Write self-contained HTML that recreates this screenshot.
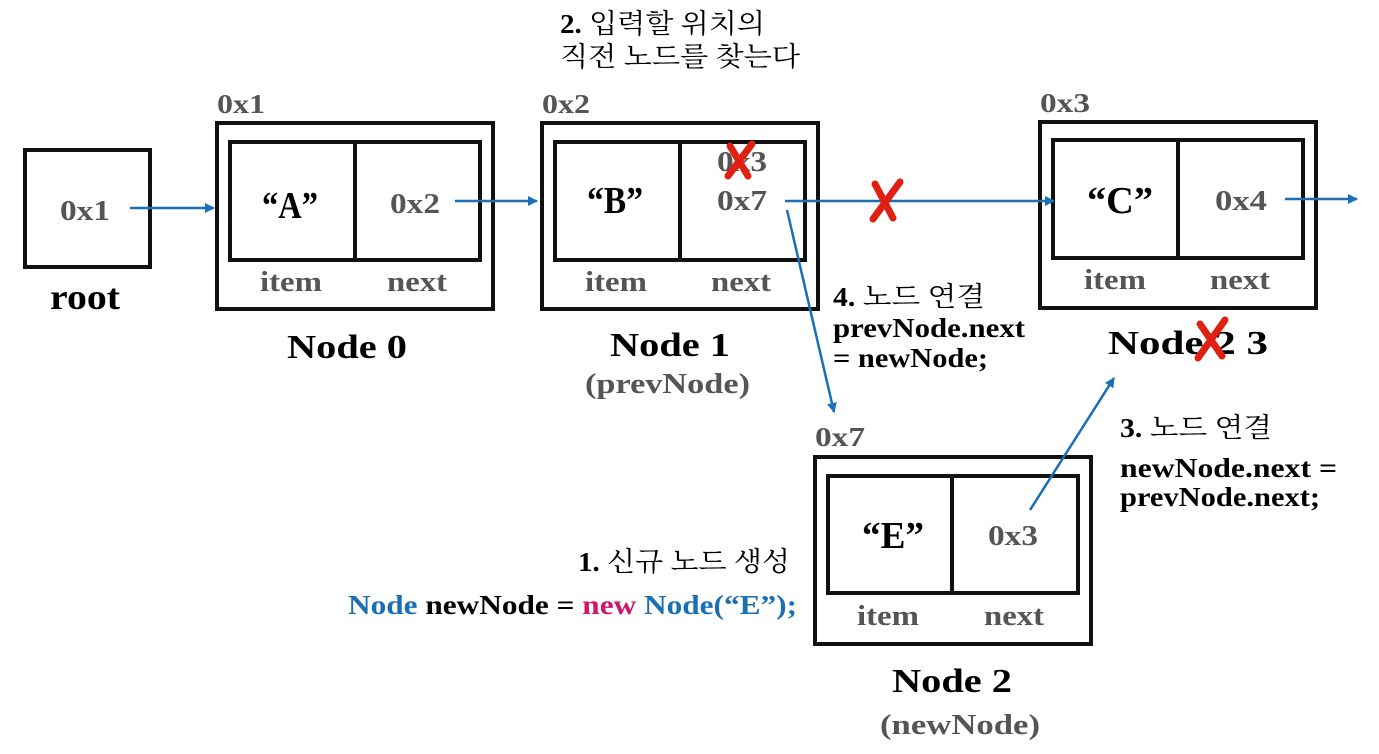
<!DOCTYPE html>
<html><head><meta charset="utf-8"><style>
body{margin:0;background:#fff}
svg{display:block}
text{font-family:"Liberation Serif","Noto Serif CJK SC","Noto Sans CJK KR",serif;font-weight:bold}
.g{fill:#555}
.k{fill:#000}
.b{fill:none;stroke:#111;stroke-width:4}
.a{stroke:#1a6fb5;stroke-width:2.5;fill:none}
.x{stroke:#e02010;stroke-width:7;stroke-linecap:round}
.n{font-weight:normal}
</style></head><body>
<svg width="1379" height="754" viewBox="0 0 1379 754">
<defs><marker id="ah" markerWidth="10" markerHeight="10" refX="9" refY="5" orient="auto" markerUnits="userSpaceOnUse"><path d="M0,0 L10,5 L0,10 Z" fill="#1a6fb5"/></marker></defs>

<g>
<text x="560" y="33" font-size="27" class="k" textLength="205" lengthAdjust="spacingAndGlyphs">2. <tspan class="n">입력할 위치의</tspan></text>
<text x="560" y="66" font-size="27" class="k n" font-weight="normal" textLength="240" lengthAdjust="spacingAndGlyphs">직전 노드를 찾는다</text>
</g>

<g>
<rect x="25" y="150" width="125" height="117" class="b"/>
<text x="60" y="220" font-size="28" class="g" textLength="50" lengthAdjust="spacingAndGlyphs">0x1</text>
<text x="50" y="309" font-size="36" class="k" textLength="70" lengthAdjust="spacingAndGlyphs">root</text>
</g>

<g>
<text x="217" y="113" font-size="27" class="g" textLength="48" lengthAdjust="spacingAndGlyphs">0x1</text>
<rect x="217" y="123" width="276" height="186" class="b"/>
<rect x="230" y="142" width="250" height="118" class="b"/>
<line x1="355" y1="142" x2="355" y2="260" class="b"/>
<text x="262" y="218" font-size="38" class="k" textLength="56" lengthAdjust="spacingAndGlyphs">“A”</text>
<text x="390" y="213" font-size="28" class="g" textLength="50" lengthAdjust="spacingAndGlyphs">0x2</text>
<text x="260" y="291" font-size="28" class="g" textLength="62" lengthAdjust="spacingAndGlyphs">item</text>
<text x="387" y="291" font-size="28" class="g" textLength="60" lengthAdjust="spacingAndGlyphs">next</text>
<text x="287" y="358" font-size="34" class="k" textLength="120" lengthAdjust="spacingAndGlyphs">Node 0</text>
</g>

<g>
<text x="542" y="113" font-size="27" class="g" textLength="48" lengthAdjust="spacingAndGlyphs">0x2</text>
<rect x="542" y="123" width="276" height="186" class="b"/>
<rect x="555" y="142" width="250" height="118" class="b"/>
<line x1="680" y1="142" x2="680" y2="260" class="b"/>
<text x="587" y="213" font-size="38" class="k" textLength="56" lengthAdjust="spacingAndGlyphs">“B”</text>
<text x="717" y="171" font-size="28" class="g" textLength="50" lengthAdjust="spacingAndGlyphs">0x3</text>
<text x="717" y="210" font-size="28" class="g" textLength="50" lengthAdjust="spacingAndGlyphs">0x7</text>
<text x="585" y="291" font-size="28" class="g" textLength="62" lengthAdjust="spacingAndGlyphs">item</text>
<text x="711" y="291" font-size="28" class="g" textLength="60" lengthAdjust="spacingAndGlyphs">next</text>
<text x="610" y="356" font-size="34" class="k" textLength="120" lengthAdjust="spacingAndGlyphs">Node 1</text>
<text x="585" y="393" font-size="28" class="g" textLength="165" lengthAdjust="spacingAndGlyphs">(prevNode)</text>
</g>

<g>
<text x="1040" y="112" font-size="27" class="g" textLength="50" lengthAdjust="spacingAndGlyphs">0x3</text>
<rect x="1040" y="122" width="276" height="186" class="b"/>
<rect x="1053" y="140" width="250" height="118" class="b"/>
<line x1="1178" y1="140" x2="1178" y2="258" class="b"/>
<text x="1087" y="213" font-size="38" class="k" textLength="66" lengthAdjust="spacingAndGlyphs">“C”</text>
<text x="1215" y="210" font-size="28" class="g" textLength="52" lengthAdjust="spacingAndGlyphs">0x4</text>
<text x="1084" y="289" font-size="28" class="g" textLength="62" lengthAdjust="spacingAndGlyphs">item</text>
<text x="1210" y="289" font-size="28" class="g" textLength="60" lengthAdjust="spacingAndGlyphs">next</text>
<text x="1108" y="354" font-size="34" class="k" textLength="160" lengthAdjust="spacingAndGlyphs">Node 2 3</text>
</g>

<g>
<text x="815" y="446" font-size="27" class="g" textLength="50" lengthAdjust="spacingAndGlyphs">0x7</text>
<rect x="815" y="457" width="276" height="187" class="b"/>
<rect x="828" y="476" width="250" height="117" class="b"/>
<line x1="952" y1="476" x2="952" y2="593" class="b"/>
<text x="862" y="548" font-size="38" class="k" textLength="62" lengthAdjust="spacingAndGlyphs">“E”</text>
<text x="988" y="545" font-size="28" class="g" textLength="50" lengthAdjust="spacingAndGlyphs">0x3</text>
<text x="857" y="625" font-size="28" class="g" textLength="62" lengthAdjust="spacingAndGlyphs">item</text>
<text x="984" y="625" font-size="28" class="g" textLength="60" lengthAdjust="spacingAndGlyphs">next</text>
<text x="892" y="692" font-size="34" class="k" textLength="120" lengthAdjust="spacingAndGlyphs">Node 2</text>
<text x="880" y="734" font-size="28" class="g" textLength="160" lengthAdjust="spacingAndGlyphs">(newNode)</text>
</g>

<g>
<line x1="130" y1="208" x2="214" y2="208" class="a" marker-end="url(#ah)"/>
<line x1="455" y1="201" x2="537" y2="201" class="a" marker-end="url(#ah)"/>
<line x1="785" y1="201" x2="1054" y2="201" class="a" marker-end="url(#ah)"/>
<line x1="1285" y1="199" x2="1357" y2="199" class="a" marker-end="url(#ah)"/>
<line x1="787" y1="210" x2="834" y2="412" class="a" marker-end="url(#ah)"/>
<line x1="1030" y1="510" x2="1114" y2="378" class="a" marker-end="url(#ah)"/>
</g>

<g>
<line x1="728" y1="176" x2="752" y2="144" class="x"/><line x1="730" y1="146" x2="748" y2="176" class="x"/>
<line x1="873" y1="219" x2="900" y2="182" class="x"/><line x1="875" y1="184" x2="893" y2="218" class="x"/>
<line x1="1198" y1="358" x2="1225" y2="320" class="x"/><line x1="1200" y1="324" x2="1222" y2="356" class="x"/>
</g>

<g>
<text x="833" y="306" font-size="27" class="k" textLength="152" lengthAdjust="spacingAndGlyphs">4. <tspan class="n">노드 연결</tspan></text>
<text x="833" y="337" font-size="27" class="k" textLength="192" lengthAdjust="spacingAndGlyphs">prevNode.next</text>
<text x="833" y="367" font-size="27" class="k" textLength="155" lengthAdjust="spacingAndGlyphs">= newNode;</text>
</g>

<g>
<text x="1120" y="437" font-size="27" class="k" textLength="152" lengthAdjust="spacingAndGlyphs">3. <tspan class="n">노드 연결</tspan></text>
<text x="1120" y="477" font-size="27" class="k" textLength="217" lengthAdjust="spacingAndGlyphs">newNode.next =</text>
<text x="1120" y="506" font-size="27" class="k" textLength="200" lengthAdjust="spacingAndGlyphs">prevNode.next;</text>
</g>

<g>
<text x="578" y="571" font-size="27" class="k" textLength="212" lengthAdjust="spacingAndGlyphs">1. <tspan class="n">신규 노드 생성</tspan></text>
<text x="348" y="614" font-size="27" class="k" textLength="449" lengthAdjust="spacingAndGlyphs"><tspan fill="#1a6fb5">Node</tspan> newNode = <tspan fill="#d0156b">new</tspan> <tspan fill="#1a6fb5">Node(“E”);</tspan></text>
</g>
</svg>
</body></html>
